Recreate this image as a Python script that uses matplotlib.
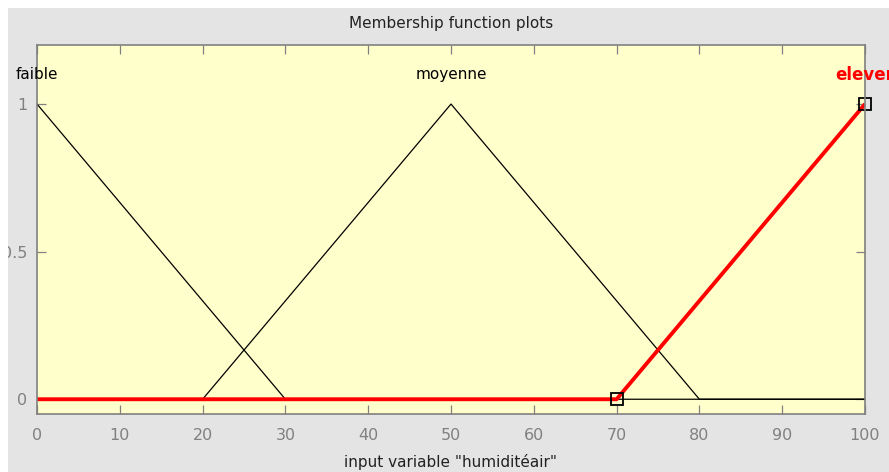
import matplotlib
matplotlib.use('Agg')
import matplotlib.pyplot as plt
from matplotlib.patches import Rectangle

# membership functions (triangles) of input variable "humiditéair"
x_range = [0, 100]
faible_x = [0, 0, 30, 100]
faible_y = [1, 1, 0, 0]
moyenne_x = [0, 20, 50, 80, 100]
moyenne_y = [0, 0, 1, 0, 0]
elever_x = [0, 70, 100]
elever_y = [0, 0, 1]
mf_names = ['faible', 'moyenne', 'elever']
mf_peaks = [0, 50, 100]
xticks = [0, 10, 20, 30, 40, 50, 60, 70, 80, 90, 100]
yticks = [0, 0.5, 1]
yticklabels = ['0', '0.5', '1']

fig = plt.figure(figsize=(8.89, 4.72), dpi=100, facecolor='#e4e4e4')
# white border strip on top and left (drawn above everything, clips labels like in the gui)
fig.patches.append(Rectangle((0, 0), 8 / 889, 1, transform=fig.transFigure,
                             facecolor='white', edgecolor='none', zorder=10))
fig.patches.append(Rectangle((0, 1 - 8 / 472), 1, 8 / 472, transform=fig.transFigure,
                             facecolor='white', edgecolor='none', zorder=10))

ax = fig.add_axes([37 / 889, 1 - 414 / 472, (865 - 37) / 889, (414 - 45) / 472])
ax.set_facecolor('#ffffcc')

ax.plot(faible_x, faible_y, color='black', lw=0.9)
ax.plot(moyenne_x, moyenne_y, color='black', lw=0.9)
ax.plot(elever_x, elever_y, color='red', lw=2.8, solid_capstyle='butt')
ax.plot([elever_x[1], elever_x[2]], [elever_y[1], elever_y[2]], ls='none', marker='s',
        ms=8.5, mfc='none', mec='black', mew=1.3, clip_on=False)

for name, px in zip(mf_names, mf_peaks):
    if name == 'elever':
        ax.text(px, 1.1, name, ha='center', va='center', fontsize=12, fontweight='bold',
                color='red', clip_on=False)
    else:
        ax.text(px, 1.1, name, ha='center', va='center', fontsize=11,
                color='black', clip_on=False)

ax.set_xlim(x_range)
ax.set_ylim(-0.05, 1.2)
ax.set_xticks(xticks)
ax.set_yticks(yticks)
ax.set_yticklabels(yticklabels)
ax.tick_params(direction='in', length=6.5, width=0.9, color='#808080', labelcolor='#808080',
               labelsize=11.5, top=True, right=True, pad=7)
ax.tick_params(axis='x', pad=10)
for s in ax.spines.values():
    s.set_color('#808080')
    s.set_linewidth(1.2)

ax.set_title('Membership function plots', fontsize=11, color='#222222', pad=12)
ax.set_xlabel('input variable "humiditéair"', fontsize=11, color='#222222', labelpad=8)

fig.savefig('out.png', dpi=100, facecolor=fig.get_facecolor())
